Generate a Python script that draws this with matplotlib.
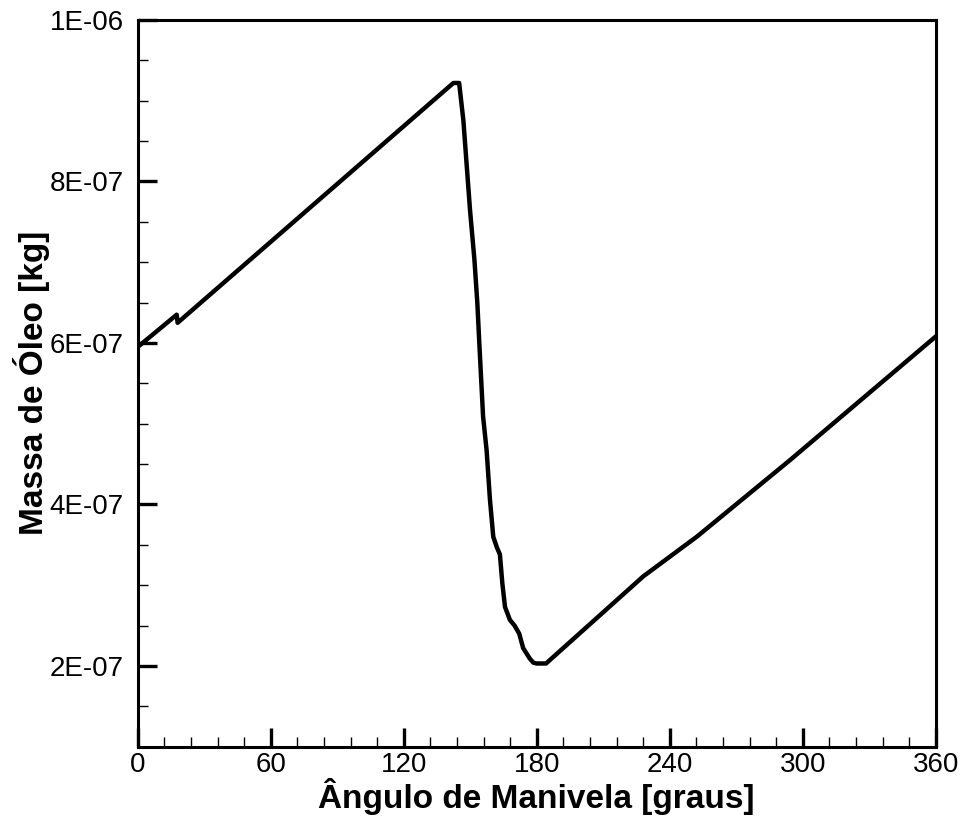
import matplotlib
matplotlib.use("Agg")
import matplotlib.pyplot as plt
from matplotlib.ticker import MultipleLocator

plt.rcParams['font.family'] = ['Liberation Sans', 'DejaVu Sans']

# Crank angle [deg] and oil mass [kg]
angle = [0.0, 17.6, 18.0, 142.4, 145.0, 146.9, 149.9, 151.9, 153.2, 154.1,
         155.8, 157.4, 158.9, 160.4, 162.0, 163.4, 164.5, 165.7, 167.9, 170.0,
         172.1, 173.9, 176.9, 178.5, 180.0, 184.2, 228.1, 252.2, 294.3, 360.0]
mass = [5.95e-07, 6.35e-07, 6.25e-07, 9.22e-07, 9.22e-07, 8.76e-07, 7.65e-07,
        7.03e-07, 6.50e-07, 6.00e-07, 5.09e-07, 4.67e-07, 4.06e-07, 3.60e-07,
        3.47e-07, 3.38e-07, 3.02e-07, 2.73e-07, 2.57e-07, 2.50e-07, 2.40e-07,
        2.22e-07, 2.09e-07, 2.04e-07, 2.03e-07, 2.03e-07, 3.11e-07, 3.60e-07,
        4.55e-07, 6.08e-07]

x_ticks = [0, 60, 120, 180, 240, 300, 360]
y_ticks = [2e-07, 4e-07, 6e-07, 8e-07, 1e-06]
y_tick_labels = ["2E-07", "4E-07", "6E-07", "8E-07", "1E-06"]

fig = plt.figure(figsize=(9.61, 8.17), dpi=100)
ax = fig.add_axes([0.1433, 0.0861, 0.8304, 0.8894])
ax.plot(angle, mass, color='black', linewidth=3.2, solid_joinstyle='round')

ax.set_xlim(0, 360)
ax.set_ylim(1e-07, 1e-06)
ax.set_xticks(x_ticks)
ax.set_xticklabels([str(t) for t in x_ticks])
ax.set_yticks(y_ticks)
ax.set_yticklabels(y_tick_labels)
ax.xaxis.set_minor_locator(MultipleLocator(12))
ax.yaxis.set_minor_locator(MultipleLocator(0.5e-07))

ax.tick_params(which='major', direction='in', length=14, width=2.4,
               labelsize=20, top=False, right=False)
ax.tick_params(axis='x', which='major', pad=4)
ax.tick_params(axis='y', which='major', pad=10)
ax.tick_params(which='minor', direction='in', length=7, width=1.0,
               top=False, right=False)
for s in ax.spines.values():
    s.set_linewidth(2.2)

ax.set_xlabel("Ângulo de Manivela [graus]", fontsize=24, fontweight='bold')
ax.set_ylabel("Massa de Óleo [kg]", fontsize=24, fontweight='bold')
ax.xaxis.set_label_coords(0.5, -0.043)
ax.yaxis.set_label_coords(-0.11, 0.5)

fig.savefig("out.png", dpi=100)
